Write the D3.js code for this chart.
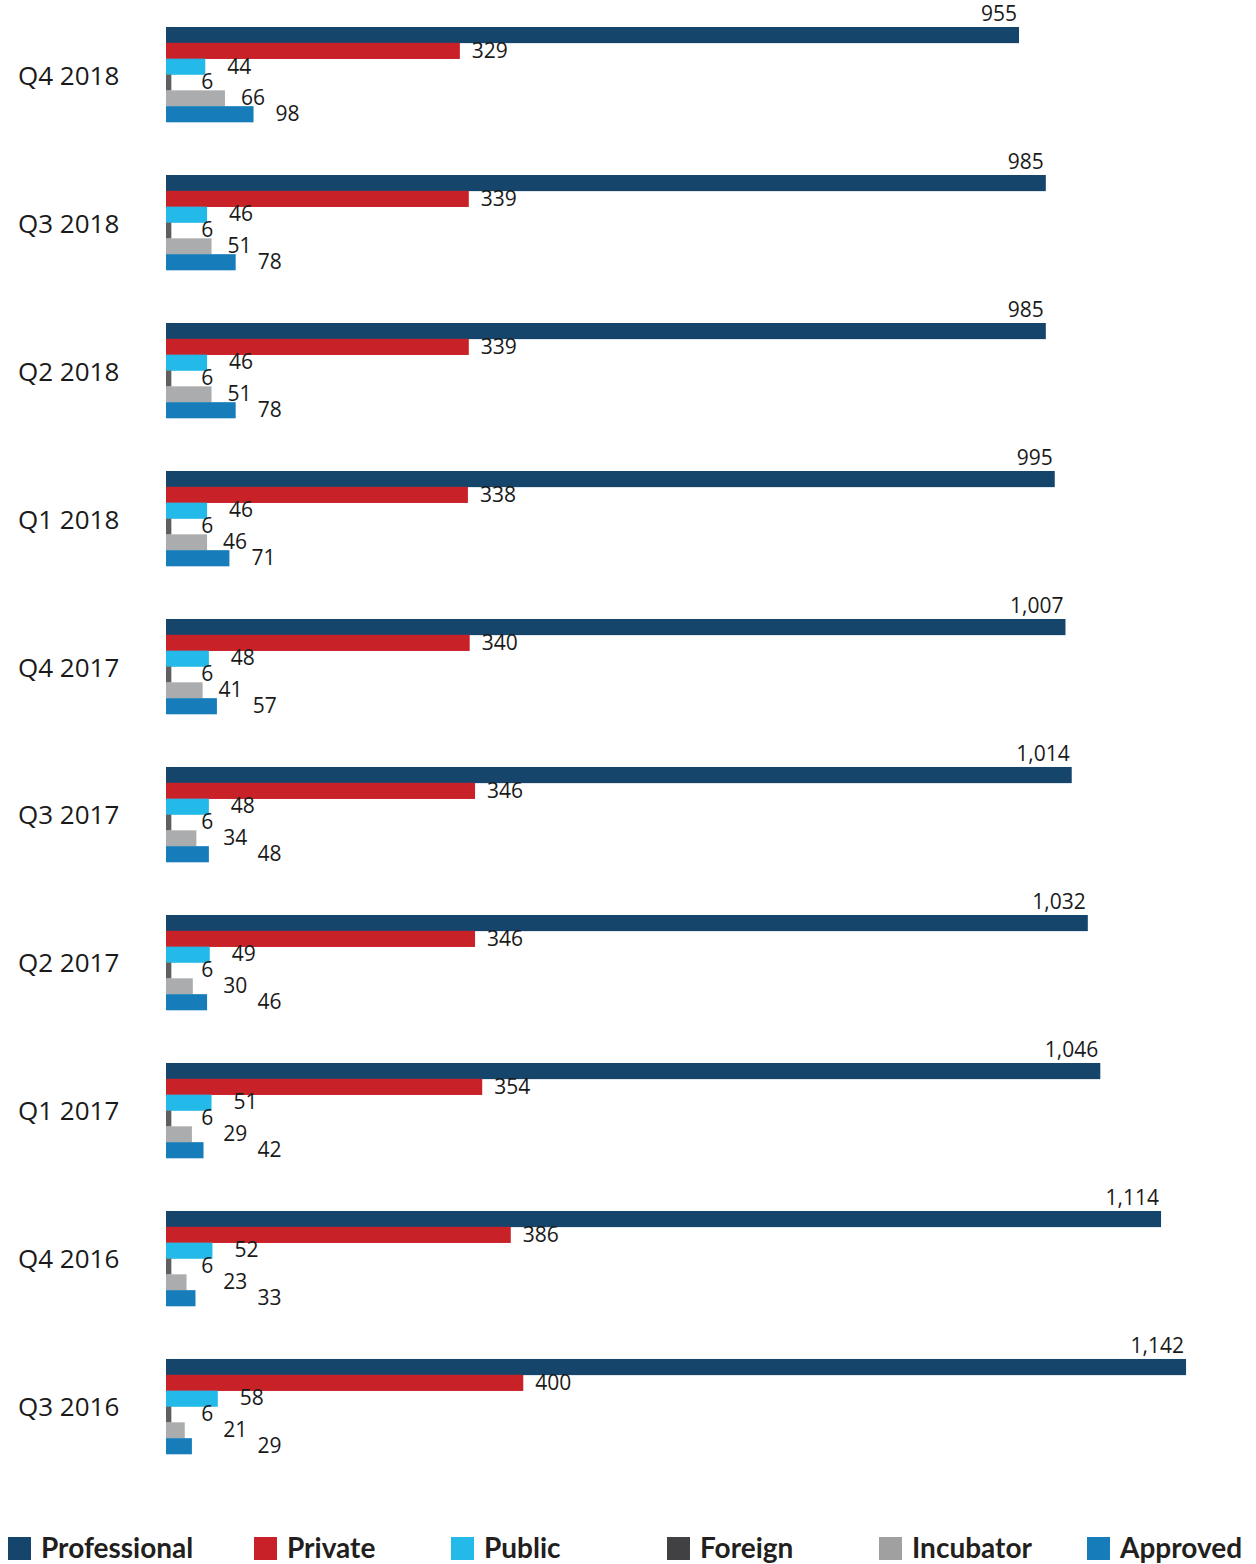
<!DOCTYPE html>
<html>
<head>
<meta charset="utf-8">
<script src="https://cdn.jsdelivr.net/npm/d3@7"></script>
<style>
  html, body { margin: 0; padding: 0; background: #fff; }
  svg { display: block; }
</style>
</head>
<body>
<svg id="chart" width="1256" height="1564"></svg>
<script>
// Quarterly counts by category
const quarters = ["Q4 2018", "Q3 2018", "Q2 2018", "Q1 2018", "Q4 2017",
                  "Q3 2017", "Q2 2017", "Q1 2017", "Q4 2016", "Q3 2016"];
const professional = [955, 985, 985, 995, 1007, 1014, 1032, 1046, 1114, 1142];
const privateCounts = [329, 339, 339, 338, 340, 346, 346, 354, 386, 400];
const publicCounts = [44, 46, 46, 46, 48, 48, 49, 51, 52, 58];
const foreign = [6, 6, 6, 6, 6, 6, 6, 6, 6, 6];
const incubator = [66, 51, 51, 46, 41, 34, 30, 29, 23, 21];
const approved = [98, 78, 78, 71, 57, 48, 46, 42, 33, 29];

const seriesNames = ["Professional", "Private", "Public", "Foreign", "Incubator", "Approved"];
const seriesValues = [professional, privateCounts, publicCounts, foreign, incubator, approved];

const barColors = ["#16456c", "#c92128", "#23baea", "#5f5f61", "#abacae", "#167dba"];
const legendColors = ["#16456c", "#c92128", "#23baea", "#414042", "#a0a0a0", "#167dba"];
// horizontal gap between bar end and its value label, per series
const labelGap = [0, 12, 22, 30, 16, 22];

const svg = d3.select("#chart");
const fmt = d3.format(",");

const x = d3.scaleLinear().domain([0, 1180]).range([166, 1220]);
const y = d3.scaleBand().domain(quarters).range([27, 1454]).paddingInner(0.358).paddingOuter(0);
const inner = d3.scaleBand().domain(seriesNames).range([0, y.bandwidth()]);

const rows = quarters.map((q, i) => ({
  quarter: q,
  items: seriesNames.map((s, k) => ({ series: s, k, value: seriesValues[k][i] }))
}));

const groups = svg.selectAll("g.group").data(rows).join("g")
  .attr("class", "group")
  .attr("transform", d => `translate(0,${y(d.quarter)})`);

groups.selectAll("rect").data(d => d.items).join("rect")
  .attr("x", x(0))
  .attr("y", d => inner(d.series))
  .attr("width", d => x(d.value) - x(0))
  .attr("height", inner.bandwidth() + 0.3)
  .attr("fill", d => barColors[d.k]);

groups.each(function (row) {
  const g = d3.select(this);
  let prev = null; // extent of the label just above, to stagger short labels
  row.items.forEach(d => {
    const t = g.append("text")
      .attr("font-family", "'Open Sans', sans-serif")
      .attr("font-size", 21)
      .attr("fill", "#1a1a1a")
      .text(fmt(d.value));
    if (d.k === 0) {
      t.attr("text-anchor", "end")
        .attr("x", x(d.value) - 2)
        .attr("y", inner(d.series) - 6);
      return;
    }
    const w = t.node().getComputedTextLength();
    let left = x(d.value) + labelGap[d.k];
    if (prev && left < prev[1] + 4 && left + w > prev[0] - 4) left = prev[1] + 10;
    t.attr("x", left).attr("y", inner(d.series) + inner.bandwidth() - 1);
    prev = [left, left + w];
  });
});

// quarter labels on the left
svg.append("g").selectAll("text").data(quarters).join("text")
  .attr("font-family", "'Open Sans', sans-serif")
  .attr("font-size", 26)
  .attr("fill", "#1a1a1a")
  .attr("x", 18)
  .attr("y", q => y(q) + y.bandwidth() / 2 + 10)
  .text(q => q);

// legend along the bottom
const legendX = [8, 254, 451, 667, 879, 1087];
const legend = svg.append("g").selectAll("g").data(seriesNames).join("g")
  .attr("transform", (d, i) => `translate(${legendX[i]},1537)`);
legend.append("rect")
  .attr("width", 23).attr("height", 23)
  .attr("fill", (d, i) => legendColors[i]);
legend.append("text")
  .attr("x", 33).attr("y", 21)
  .attr("font-family", "Lato, sans-serif")
  .attr("font-weight", "bold")
  .attr("font-size", 28)
  .attr("fill", "#231f20")
  .text(d => d);
</script>
</body>
</html>
